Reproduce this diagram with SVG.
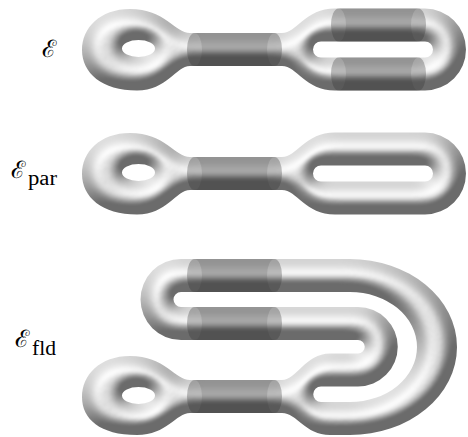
<svg xmlns="http://www.w3.org/2000/svg" xmlns:xlink="http://www.w3.org/1999/xlink" width="468" height="437" viewBox="0 0 468 437">
<style>
.tube{fill:#000;fill-rule:evenodd}
.bandA{fill:#333;fill-opacity:.3}
.bandB{fill:#222;fill-opacity:.12}
.lbl{font-family:"DejaVu Serif","Liberation Serif",serif;font-size:24px;fill:#000}
.sub{font-family:"Liberation Serif","DejaVu Serif",serif;font-size:20px}
</style>
<defs>
<filter id="shade" x="-5%" y="-10%" width="110%" height="120%" color-interpolation-filters="sRGB">
<feGaussianBlur in="SourceAlpha" stdDeviation="7.5" result="b"/>
<feDiffuseLighting in="b" surfaceScale="30" diffuseConstant="1" lighting-color="#ffffff" result="d">
<feDistantLight azimuth="240" elevation="55"/>
</feDiffuseLighting>
<feGaussianBlur in="d" stdDeviation="1.3" result="ds"/>
<feComponentTransfer in="ds" result="c">
<feFuncR type="linear" slope="0.57" intercept="0.42"/>
<feFuncG type="linear" slope="0.57" intercept="0.42"/>
<feFuncB type="linear" slope="0.57" intercept="0.42"/>
</feComponentTransfer>
<feComposite in="c" in2="SourceAlpha" operator="in"/>
</filter>
<path id="pairShape" d="M190 33 C175 33 165 9 130 9 C100 9 82 28 82 50 C82 73 102 90.5 137 90.5 C167 90.5 176 66 190 66 L282 66 C297 66 305 90.5 335 90.5 L425 90.5 A41 41 0 0 0 425 8.5 L335 8.5 C305 8.5 297 33 282 33 Z M122 48.5 A16.5 8.5 0 1 0 155 48.5 A16.5 8.5 0 1 0 122 48.5 Z M321 41.5 H425 A8 8 0 0 1 425 57.5 H321 A8 8 0 0 1 321 41.5 Z"/>
<g id="band">
<path class="bandA" d="M7.5 0 H87.5 A7.5 16.5 0 0 1 87.5 33 H7.5 A7.5 16.5 0 0 1 7.5 0 Z"/>
<path class="bandB" d="M7.5 0 A7.5 16.5 0 0 1 7.5 33 H87.5 A7.5 16.5 0 0 1 87.5 0 Z"/>
</g>
</defs>
<rect width="468" height="437" fill="#fff"/>

<g id="E">
<use xlink:href="#pairShape" class="tube" filter="url(#shade)"/>
<g id="E-bands">
<use xlink:href="#band" x="187" y="33"/>
<use xlink:href="#band" x="331" y="8.5"/>
<use xlink:href="#band" x="331" y="57.5"/>
</g>
<text class="lbl" x="42" y="57">ℰ</text>
</g>

<g id="Epar">
<use xlink:href="#pairShape" class="tube" filter="url(#shade)" transform="translate(0,124)"/>
<g id="Epar-bands">
<use xlink:href="#band" x="187" y="157"/>
</g>
<text class="lbl" x="11" y="178">ℰ<tspan class="sub" x="28" y="185" textLength="29" lengthAdjust="spacingAndGlyphs">par</tspan></text>
</g>

<g id="Efld">
<path class="tube" filter="url(#shade)" d="M190 380 C175 380 165 356 130 356 C100 356 82 375 82 397 C82 419 100 435 137 435 C167 435 176 413 190 413 L282 413 C297 413 305 435 330 435 L350 435 A107 88 0 0 0 350 259 L181 259 A40.5 40.5 0 0 0 181 340 L358 340 A6.75 6.75 0 0 1 358 353.5 L330 353.5 C305 353.5 297 380 282 380 Z M122 395.5 A16.5 8.5 0 1 0 155 395.5 A16.5 8.5 0 1 0 122 395.5 Z M181 292 L350 292 A67 55 0 0 1 350 402 L321 402 A7.75 7.75 0 0 1 321 386.5 L358 386.5 A39.75 39.75 0 0 0 358 307 L181 307 A7.5 7.5 0 0 1 181 292 Z"/>
<g id="Efld-bands">
<use xlink:href="#band" x="187" y="380"/>
<use xlink:href="#band" x="187" y="259"/>
<use xlink:href="#band" x="187" y="307"/>
</g>
<text class="lbl" x="15" y="347">ℰ<tspan class="sub" x="32" y="355" textLength="24" lengthAdjust="spacingAndGlyphs">fld</tspan></text>
</g>
</svg>
